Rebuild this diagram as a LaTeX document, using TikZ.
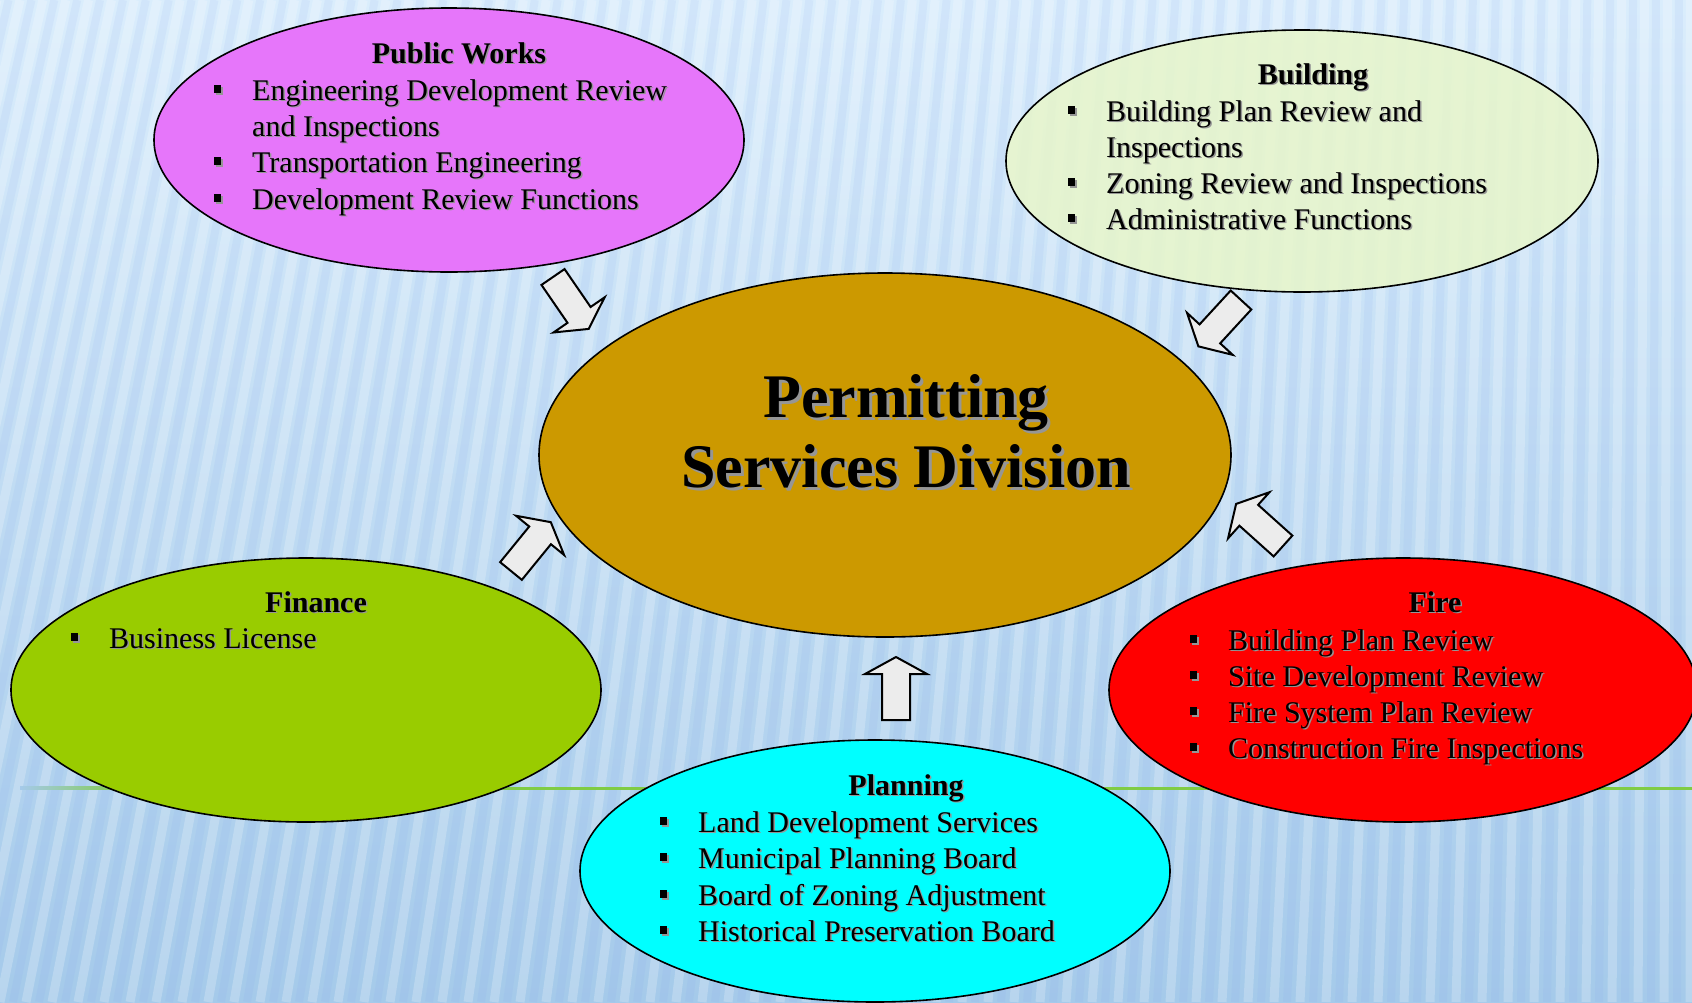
\documentclass[tikz,border=0pt]{standalone}
\usepackage{fontspec}
\setmainfont{Liberation Serif}
\usetikzlibrary{shapes.geometric}

\definecolor{bgtop}{RGB}{218,237,252}
\definecolor{bgbot}{RGB}{165,202,234}
\definecolor{linegreen}{RGB}{128,204,68}
\definecolor{pwmag}{RGB}{230,118,250}
\definecolor{bldgreen}{RGB}{232,246,202}
\definecolor{psdgold}{RGB}{204,153,0}
\definecolor{fingreen}{RGB}{153,204,0}
\definecolor{plancyan}{RGB}{0,255,255}
\definecolor{arrowgrey}{RGB}{236,236,236}
\definecolor{shadowgrey}{RGB}{150,150,150}

\newcommand\shd[1]{\makebox[0pt][l]{\hspace{1.5pt}\raisebox{-1.5pt}{\textcolor{shadowgrey}{#1}}}#1}
\newcommand\shdbig[1]{\makebox[0pt][l]{\hspace{3pt}\raisebox{-3pt}{\textcolor{shadowgrey}{#1}}}#1}
\newcommand\bul{\makebox[38pt][l]{\shd{\rule[7pt]{7pt}{8pt}}}}

\begin{document}
\begin{tikzpicture}[x=1pt,y=-1pt,
  bubble/.style={ellipse,draw=black,line width=1.6pt,inner sep=0pt},
  item/.style={anchor=base west,inner sep=0pt,font=\fontsize{30}{36}\selectfont},
  head/.style={anchor=base,inner sep=0pt,font=\fontsize{30}{36}\selectfont\bfseries},
  title/.style={anchor=base,inner sep=0pt,font=\fontsize{62}{70}\selectfont\bfseries},
  stripe/.style={white,opacity=0.22,line width=9pt},
  stripedark/.style={bgbot!80!blue,opacity=0.10,line width=8pt},
  blk/.style={draw=black,line width=2pt,fill=arrowgrey,line join=miter},
  pics/blkarrow/.style={code={
    \draw[blk] (0,-14) -- (46,-14) -- (46,-31) -- (63,0) -- (46,31) -- (46,14) -- (0,14) -- cycle;}}]
\useasboundingbox (0,0) rectangle (1692,1002);

% background
\shade[top color=bgtop,bottom color=bgbot] (0,0) rectangle (1692,1002);
\begin{scope}
\clip (0,0) rectangle (1692,1002);
\foreach \b in {-260,-234,...,1720}{
  \draw[stripe] (\b,1002) -- ({\b+0.12*(1692-\b)},0);
  \draw[stripedark] (\b+13,1002) -- ({\b+13+0.12*(1679-\b)},0);
}
\end{scope}
\shade[left color=bgbot,right color=linegreen] (20,786.5) rectangle (130,789.5);
\draw[linegreen,line width=3pt] (130,788) -- (1692,788);

% bubbles
\node[bubble,fill=pwmag,minimum width=590pt,minimum height=264pt] (pw) at (449,140) {};
\node[bubble,fill=bldgreen,fill opacity=0.85,minimum width=592pt,minimum height=262pt] (bld) at (1302,161) {};
\node[bubble,fill=psdgold,minimum width=692pt,minimum height=364pt] (psd) at (885,455) {};
\node[bubble,fill=fingreen,minimum width=590pt,minimum height=264pt] (fin) at (306,690) {};
\node[bubble,fill=red,minimum width=588pt,minimum height=264pt] (fire) at (1403,690) {};
\node[bubble,fill=plancyan,minimum width=590pt,minimum height=262pt] (plan) at (875,871) {};

% arrows into the division
\pic (arpw) [rotate=-55.5] at (553,277) {blkarrow};
\pic (arbld) [rotate=-132.6] at (1241,300) {blkarrow};
\pic (arfin) [rotate=50.8] at (511,571) {blkarrow};
\pic (arfire) [rotate=138.1] at (1283,546) {blkarrow};
\pic (arplan) [rotate=90] at (896,720) {blkarrow};

% centre
\node[title] (psdt1) at (906,417) {\shdbig{Permitting}};
\node[title] (psdt2) at (906,487) {\shdbig{Services Division}};

% public works
\node[head] (pwh) at (459,63) {\shd{Public Works}};
\node[item] (pw1) at (214,100) {\bul\shd{Engineering Development Review}};
\node[item] (pw1b) at (252,136) {\shd{and Inspections}};
\node[item] (pw2) at (214,172) {\bul\shd{Transportation Engineering}};
\node[item] (pw3) at (214,209) {\bul\shd{Development Review Functions}};

% building
\node[head] (bldh) at (1313,84) {\shd{Building}};
\node[item] (bld1) at (1068,121) {\bul\shd{Building Plan Review and}};
\node[item] (bld1b) at (1106,157) {\shd{Inspections}};
\node[item] (bld2) at (1068,193) {\bul\shd{Zoning Review and Inspections}};
\node[item] (bld3) at (1068,229) {\bul\shd{Administrative Functions}};

% finance
\node[head] (finh) at (316,612) {\shd{Finance}};
\node[item] (fin1) at (71,648) {\bul\shd{Business License}};

% fire
\node[head] (fireh) at (1435,612) {\shd{Fire}};
\node[item] (fire1) at (1190,650) {\bul\shd{Building Plan Review}};
\node[item] (fire2) at (1190,686) {\bul\shd{Site Development Review}};
\node[item] (fire3) at (1190,722) {\bul\shd{Fire System Plan Review}};
\node[item] (fire4) at (1190,758) {\bul\shd{Construction Fire Inspections}};

% planning
\node[head] (planh) at (906,795) {\shd{Planning}};
\node[item] (plan1) at (660,832) {\bul\shd{Land Development Services}};
\node[item] (plan2) at (660,868) {\bul\shd{Municipal Planning Board}};
\node[item] (plan3) at (660,905) {\bul\shd{Board of Zoning Adjustment}};
\node[item] (plan4) at (660,941) {\bul\shd{Historical Preservation Board}};

\end{tikzpicture}
\end{document}
